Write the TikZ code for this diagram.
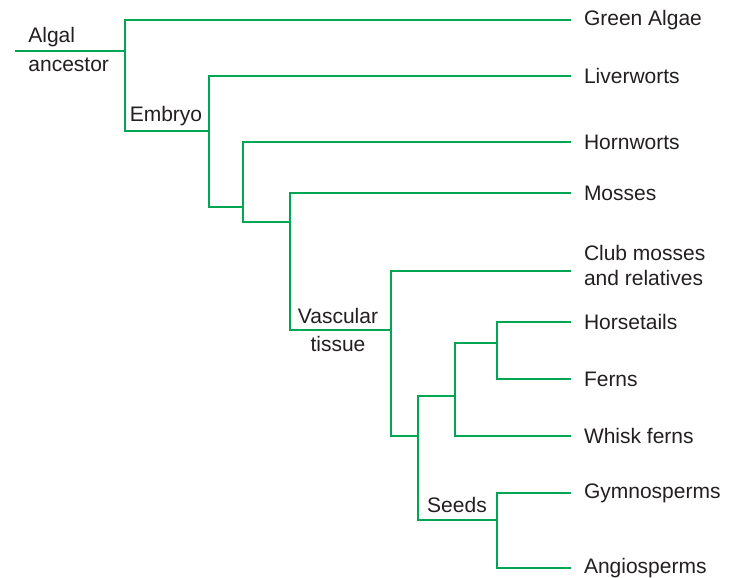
\documentclass[tikz,border=0pt]{standalone}
\usepackage{fontspec}
\setmainfont{Liberation Sans}
\usetikzlibrary{positioning,calc}
\definecolor{ink}      {HTML}{231F20}
\definecolor{leafgreen}{HTML}{00A651}
\tikzset{
  every node/.style={font=\fontsize{10.5}{13.5}\selectfont, text=ink},
  % --- nodes
  taxon/.style = {anchor=west, align=left, inner sep=0pt, outer sep=6.5pt},
  trait/.style = {align=center, inner sep=0pt},
  % --- branches
  br/.style    = {draw=leafgreen, line width=1.3pt},
}

\begin{document}
\begin{tikzpicture}[x=0.5pt, y=-0.5pt]
  \useasboundingbox (0,0) rectangle (736,578);

  % --- branch points
  \coordinate (r0) at (15,51);
  \coordinate (n1) at (125,51);
  \coordinate (n2) at (209,131);
  \coordinate (n3) at (243,207);
  \coordinate (n4) at (290,222);
  \coordinate (n5) at (391,330);
  \coordinate (n6) at (418,436);
  \coordinate (n7) at (455,396);
  \coordinate (n8) at (497,343);
  \coordinate (n9) at (497,520);

  % --- taxa
  \node[taxon] (ga)   at (571,20)  {Green Algae};
  \node[taxon] (lw)   at (571,76)  {Liverworts};
  \node[taxon] (hw)   at (571,142) {Hornworts};
  \node[taxon] (mo)   at (571,193) {Mosses};
  \node[taxon, font=\fontsize{10.5}{12.5}\selectfont, text depth=6pt] (club)
        at (571,271) {Club mosses\\and relatives};
  \node[taxon] (ht)   at (571,322) {Horsetails};
  \node[taxon] (fe)   at (571,379) {Ferns};
  \node[taxon] (wf)   at (571,436) {Whisk ferns};
  \node[taxon] (gy)   at (571,493) {Gymnosperms};
  \node[taxon] (an)   at (571,568) {Angiosperms};

  % --- traits
  \node[trait, anchor=west, align=left, font=\fontsize{10.5}{14.5}\selectfont]
        (algal) at (28,49) {Algal\\ancestor};
  \node[trait] (embryo) at (166,116) {Embryo};
  \node[trait, font=\fontsize{10.5}{14}\selectfont] (vasc) at (338,330)
        {Vascular\\tissue};
  \node[trait] (seeds) at (457,505) {Seeds};

  \draw[br] (r0) -- (n1);
  \foreach \a/\b in {n1/ga,n1/n2,n2/lw,n2/n3,n3/hw,n3/n4,n4/mo,n4/n5,
                     n5/club,n5/n6,n6/n7,n6/n9,n7/n8,n7/wf,n8/ht,n8/fe,
                     n9/gy,n9/an}
    \draw[br] (\a) |- (\b);
\end{tikzpicture}
\end{document}
